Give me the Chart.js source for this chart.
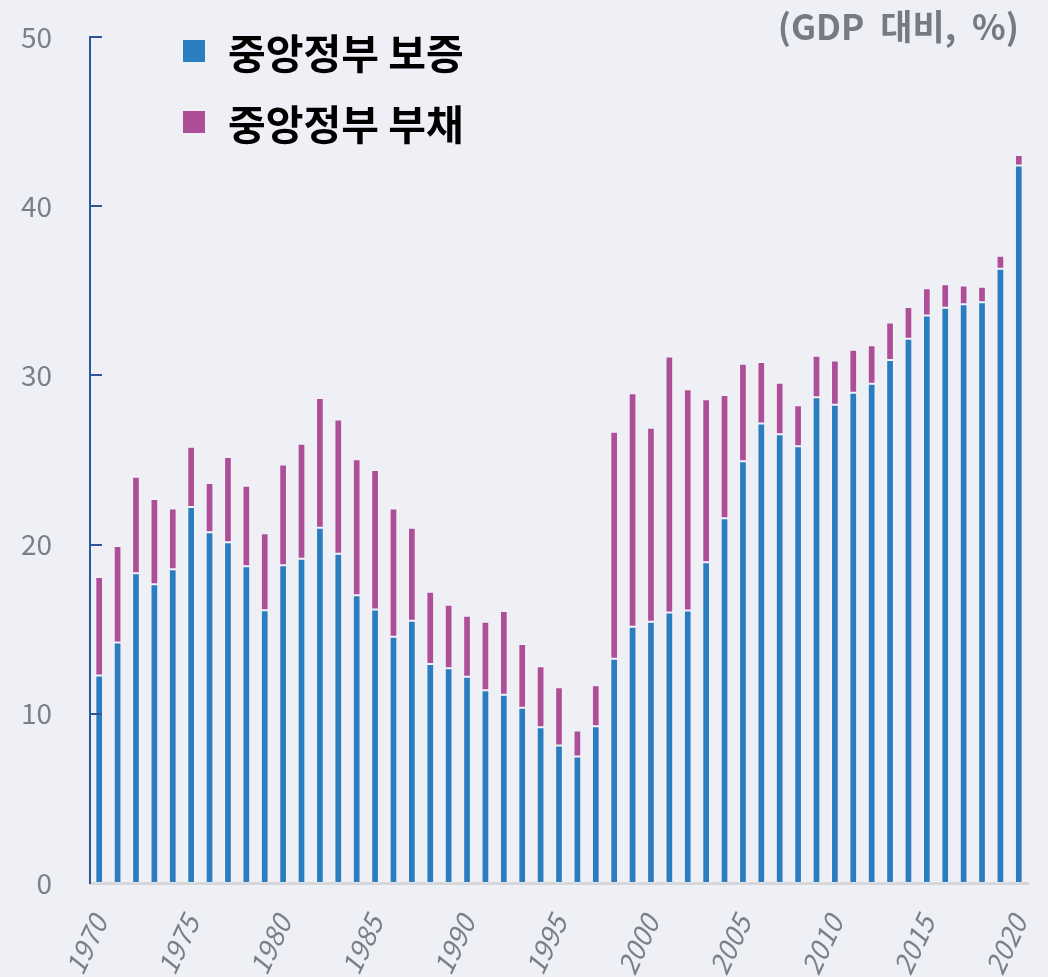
<!DOCTYPE html>
<html>
<head>
<meta charset="utf-8">
<script src="https://cdn.jsdelivr.net/npm/chart.js@4.4.0/dist/chart.umd.min.js"></script>
<style>
  html, body { margin: 0; padding: 0; background: #eff0f5; }
  #wrap { position: relative; width: 1048px; height: 977px; background: #eff0f5; overflow: hidden; }
  #c { position: absolute; left: 0; top: 0; }
  .unit { position: absolute; right: 29px; top: 5px; line-height: 40px; font-family: "Noto Sans CJK KR", "Noto Sans", sans-serif; font-weight: 700; font-size: 35px; word-spacing: 8px; color: #767a85; white-space: nowrap; }
  .leg { position: absolute; left: 183px; line-height: 50px; font-family: "Noto Sans CJK KR", sans-serif; font-weight: 700; font-size: 41px; color: #000; white-space: nowrap; display: flex; align-items: center; }
  .leg .sw { width: 22px; height: 22px; margin-right: 23px; }
</style>
</head>
<body>
<div id="wrap">
  <canvas id="c" width="1048" height="977"></canvas>
  <div class="unit" id="unit"></div>
  <div id="legend"></div>
</div>
<script>
const years = [];
for (let y = 1970; y <= 2020; y++) years.push(String(y));

const seriesNames = ["중앙정부 보증", "중앙정부 부채"];
const seriesColors = ["#2a7ec0", "#ad4f98"];
const unitLabel = "(GDP 대비, %)";

const guarantee = [
  12.27, 14.22, 18.30, 17.65, 18.54, 22.22, 20.73, 20.14, 18.72, 16.12,
  18.78, 19.17, 21.00, 19.46, 17.00, 16.17, 14.56, 15.50, 12.94, 12.69,
  12.19, 11.39, 11.13, 10.36, 9.20, 8.12, 7.47, 9.27, 13.26, 15.15,
  15.44, 15.98, 16.10, 18.95, 21.55, 24.92, 27.15, 26.52, 25.81, 28.71,
  28.27, 28.98, 29.51, 30.91, 32.17, 33.54, 34.00, 34.20, 34.32, 36.30,
  42.41
];
const debt = [
  5.82, 5.70, 5.71, 5.05, 3.60, 3.57, 2.91, 5.04, 4.76, 4.55,
  5.96, 6.79, 7.66, 7.94, 8.04, 8.24, 7.58, 5.50, 4.28, 3.76,
  3.61, 4.05, 4.95, 3.77, 3.61, 3.45, 1.55, 2.42, 13.41, 13.79,
  11.47, 15.13, 13.08, 9.64, 7.29, 5.77, 3.64, 3.05, 2.42, 2.45,
  2.61, 2.54, 2.27, 2.21, 1.87, 1.61, 1.38, 1.12, 0.92, 0.77,
  0.62
];
const yTicks = [0, 10, 20, 30, 40, 50];

document.getElementById('unit').textContent = unitLabel;
const legendEl = document.getElementById('legend');
seriesNames.forEach((n, i) => {
  const d = document.createElement('div');
  d.className = 'leg';
  d.style.top = (i === 0 ? 26 : 97) + 'px';
  d.innerHTML = '<span class="sw" style="background:' + seriesColors[i] + '"></span><span>' + n + '</span>';
  legendEl.appendChild(d);
});

const innerTicks = {
  id: 'innerTicks',
  afterDraw(chart) {
    const ys = chart.scales.y, ctx = chart.ctx, left = chart.chartArea.left;
    ctx.save();
    ctx.strokeStyle = '#2f5597';
    ctx.lineWidth = 2;
    ys.ticks.forEach(t => {
      if (t.value === 0) return;
      const py = Math.round(ys.getPixelForValue(t.value));
      ctx.beginPath();
      ctx.moveTo(left, py);
      ctx.lineTo(left + 12, py);
      ctx.stroke();
    });
    ctx.restore();
  }
};

new Chart(document.getElementById('c'), {
  type: 'bar',
  data: {
    labels: years,
    datasets: [
      { label: seriesNames[0], data: guarantee, backgroundColor: seriesColors[0], borderColor: 'rgba(255,255,255,0.3)', borderWidth: 1, borderSkipped: false },
      { label: seriesNames[1], data: debt, backgroundColor: seriesColors[1], borderColor: 'rgba(255,255,255,0.3)', borderWidth: 1, borderSkipped: false }
    ]
  },
  options: {
    responsive: false,
    animation: false,
    events: [],
    layout: { padding: { top: 37, right: 20, left: 0, bottom: 0 } },
    datasets: { bar: { categoryPercentage: 1.0, barPercentage: 0.42 } },
    plugins: { legend: { display: false }, tooltip: { enabled: false } },
    scales: {
      x: {
        stacked: true,
        grid: { display: false, drawTicks: false, tickLength: 0 },
        border: { display: true, color: '#d6d7db', width: 3 },
        afterFit(s) { s.height = 94; s.paddingLeft = 0; s.paddingRight = 0; },
        ticks: {
          autoSkip: false,
          minRotation: 65,
          maxRotation: 65,
          padding: 27,
          color: '#7b7f8a',
          font: { family: '"Noto Sans CJK KR", "Noto Sans", sans-serif', size: 27.5, style: 'italic' },
          callback(v, i) { const y = years[i]; return (+y % 5 === 0) ? y : ''; }
        }
      },
      y: {
        stacked: true,
        min: 0,
        max: 50,
        afterBuildTicks(s) { s.ticks = yTicks.map(v => ({ value: v })); },
        afterFit(s) { s.width = 90; s.paddingTop = 0; s.paddingBottom = 0; },
        grid: { display: false, drawTicks: false, tickLength: 0 },
        border: { display: true, color: '#2f5597', width: 2 },
        ticks: {
          padding: 38,
          color: '#7b7f8a',
          font: { family: '"Noto Sans CJK KR", "Noto Sans", sans-serif', size: 28 }
        }
      }
    }
  },
  plugins: [innerTicks]
});
</script>
</body>
</html>
